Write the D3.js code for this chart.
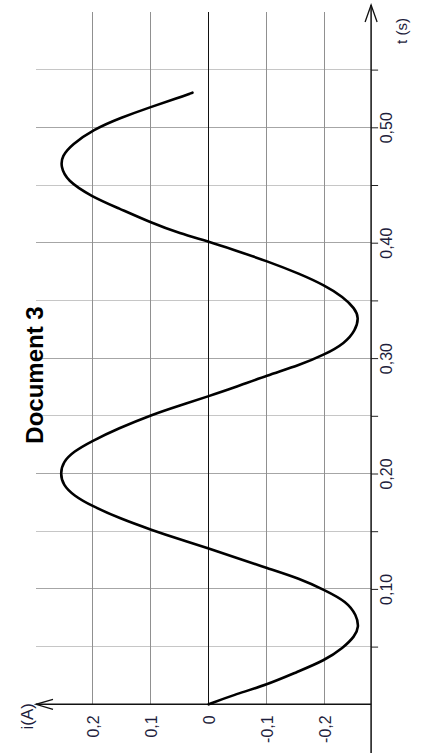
<!DOCTYPE html>
<html>
<head>
<meta charset="utf-8">
<script src="https://cdn.jsdelivr.net/npm/d3@7"></script>
<style>
  html, body { margin: 0; padding: 0; background: #fff; }
  svg { display: block; }
</style>
</head>
<body>
<svg id="chart"></svg>
<script>
// labels
const title = "Document 3";
const tLabel = "t (s)";
const iLabel = "i(A)";

// ticks
const tMajor = [0.1, 0.2, 0.3, 0.4, 0.5];
const tMinor = [0.05, 0.15, 0.25, 0.35, 0.45, 0.55];
const iTicks = [0.2, 0.1, 0, -0.1, -0.2];

// measured curve: time (s) and current (A)
const times = [0, 0.008, 0.017, 0.028, 0.038, 0.049, 0.059, 0.067, 0.077, 0.089, 0.099, 0.109, 0.118, 0.128, 0.135,
  0.143, 0.151, 0.161, 0.172, 0.181, 0.190, 0.200, 0.210, 0.219, 0.228, 0.239, 0.251, 0.259, 0.267,
  0.274, 0.285, 0.294, 0.303, 0.313, 0.324, 0.335, 0.343, 0.353, 0.363, 0.373, 0.384, 0.394, 0.401,
  0.408, 0.417, 0.430, 0.440, 0.454, 0.466, 0.475, 0.485, 0.498, 0.508, 0.518, 0.525, 0.530];
const currents = [0, -0.042, -0.101, -0.152, -0.200, -0.232, -0.252, -0.259, -0.255, -0.238, -0.200, -0.157, -0.101, -0.042, 0,
  0.050, 0.098, 0.153, 0.202, 0.233, 0.251, 0.256, 0.251, 0.233, 0.202, 0.156, 0.098, 0.050, 0,
  -0.042, -0.101, -0.157, -0.200, -0.235, -0.253, -0.259, -0.252, -0.232, -0.200, -0.157, -0.101, -0.042, 0,
  0.050, 0.098, 0.156, 0.202, 0.245, 0.255, 0.253, 0.236, 0.199, 0.153, 0.098, 0.055, 0.028];

const W = 421, H = 753;
const font = "'Liberation Sans', Arial, sans-serif";
const ink = "#1e1e3c";

const svg = d3.select("#chart").attr("width", W).attr("height", H);

// the chart is drawn turned a quarter turn: time goes up, current goes left
const x = d3.scaleLinear().domain([0.3, -0.28]).range([34.7, 371.1]);
const y = d3.scaleLinear().domain([0, 0.5]).range([704.3, 127.3]);

const loc = d3.formatLocale({ decimal: ",", thousands: " ", grouping: [3], currency: ["", ""], minus: "-" });
const fT = loc.format(".2f");
const fI = loc.format(".1f");

const grid = svg.append("g").attr("shape-rendering", "crispEdges");

grid.selectAll(".hmin").data(tMinor).join("line")
  .attr("x1", 36).attr("x2", x(-0.28))
  .attr("y1", d => y(d)).attr("y2", d => y(d))
  .style("stroke", "#c6c6c6");

grid.selectAll(".hmaj").data(tMajor).join("line")
  .attr("x1", 36).attr("x2", x(-0.28))
  .attr("y1", d => y(d)).attr("y2", d => y(d))
  .style("stroke", "#a6a6a6");

grid.selectAll(".v").data(iTicks.filter(d => d !== 0)).join("line")
  .attr("x1", d => x(d)).attr("x2", d => x(d))
  .attr("y1", y(0)).attr("y2", y(0.6))
  .style("stroke", "#909090");

// i = 0 line
grid.append("line")
  .attr("x1", x(0)).attr("x2", x(0))
  .attr("y1", y(0)).attr("y2", y(0.6))
  .style("stroke", "#111").style("stroke-width", 1.5);

// t axis (vertical, on the right)
const tAxis = svg.append("g")
  .attr("transform", "translate(" + x(-0.28) + ",0)")
  .call(d3.axisRight(y)
    .tickValues(tMajor.concat(tMinor))
    .tickSize(7)
    .tickFormat(d => tMajor.includes(d) ? fT(d) : ""));
tAxis.select(".domain").remove();
tAxis.selectAll("line").style("stroke", "#222");
tAxis.selectAll("text")
  .attr("x", null).attr("dy", null)
  .attr("transform", "translate(21,0) rotate(-90)")
  .attr("text-anchor", "middle")
  .style("font-family", font).style("font-size", "16px").style("fill", ink);

svg.append("line")
  .attr("x1", x(-0.28)).attr("x2", x(-0.28))
  .attr("y1", 753).attr("y2", 5)
  .style("stroke", "#111").style("stroke-width", 1.5);
svg.append("path")
  .attr("d", "M" + (x(-0.28) - 6) + ",22 L" + x(-0.28) + ",5 L" + (x(-0.28) + 6) + ",22")
  .style("fill", "none").style("stroke", "#111").style("stroke-width", 1.3);

// i axis (horizontal, at t = 0)
const iAxis = svg.append("g")
  .attr("transform", "translate(0," + y(0) + ")")
  .call(d3.axisBottom(x)
    .tickValues(iTicks)
    .tickSize(0)
    .tickFormat(d => d === 0 ? "0" : fI(d)));
iAxis.select(".domain").remove();
iAxis.selectAll("text")
  .attr("y", null).attr("dy", null)
  .attr("transform", "translate(6,11) rotate(-90)")
  .attr("text-anchor", "end")
  .style("font-family", font).style("font-size", "16px").style("fill", ink);

svg.append("line")
  .attr("x1", 36).attr("x2", x(-0.28))
  .attr("y1", y(0)).attr("y2", y(0))
  .style("stroke", "#111").style("stroke-width", 1.5);
svg.append("path")
  .attr("d", "M53," + (y(0) - 5) + " L36," + y(0) + " L53," + (y(0) + 5))
  .style("fill", "none").style("stroke", "#111").style("stroke-width", 1.3);

// axis names
svg.append("text")
  .text(tLabel)
  .attr("transform", "translate(407,31) rotate(-90)")
  .attr("text-anchor", "middle")
  .style("font-family", font).style("font-size", "15px").style("fill", ink);

svg.append("text")
  .text(iLabel)
  .attr("transform", "translate(33,703) rotate(-90)")
  .attr("text-anchor", "end")
  .style("font-family", font).style("font-size", "17px").style("fill", ink);

// title
svg.append("text")
  .text(title)
  .attr("transform", "translate(43,375) rotate(-90)")
  .attr("text-anchor", "middle")
  .style("font-family", font).style("font-size", "24px").style("font-weight", "bold")
  .style("fill", "#000");

// curve
const pts = times.map((t, k) => ({ t: t, i: currents[k] }));
const line = d3.line()
  .x(d => x(d.i))
  .y(d => y(d.t))
  .curve(d3.curveBasis);

svg.append("path")
  .datum(pts)
  .attr("d", line)
  .style("fill", "none")
  .style("stroke", "#000")
  .style("stroke-width", 2.6)
  .style("stroke-linejoin", "round")
  .style("stroke-linecap", "round");
</script>
</body>
</html>
